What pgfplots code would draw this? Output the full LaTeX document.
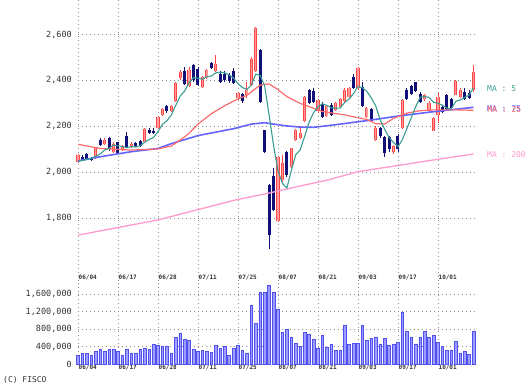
\documentclass[border=0pt]{standalone}
\usepackage{pgfplots}
\pgfplotsset{compat=1.18}
\usepackage{pgfplotstable}
\usepackage{fontspec}
\setmainfont{DejaVu Sans}
\setmonofont{DejaVu Sans Mono}
\definecolor{upc}{HTML}{FF4545}
\definecolor{upin}{HTML}{FF9A9A}
\definecolor{dnc}{HTML}{101078}
\definecolor{mafive}{HTML}{3A9E92}
\definecolor{matwf}{HTML}{FF6A6A}
\definecolor{masev}{HTML}{6464FF}
\definecolor{matwo}{HTML}{FF9ACD}
\definecolor{volf}{HTML}{9E9EFF}
\definecolor{vold}{HTML}{5050F0}
\definecolor{gridc}{HTML}{8C8C8C}
\definecolor{txt}{HTML}{333333}

\pgfplotstableread{
x lo hi low high
0 2047 2076 2040 2080
4 2061 2110 2058 2112
6 2122 2142 2118 2150
8 2090 2125 2085 2130
10 2100 2112 2095 2120
12 2112 2125 2108 2130
15 2134 2190 2130 2195
18 2195 2240 2190 2245
19 2250 2275 2245 2280
21 2268 2290 2262 2295
22 2310 2390 2305 2392
23 2410 2438 2400 2445
25 2375 2445 2370 2460
28 2370 2415 2365 2420
29 2410 2445 2405 2450
31 2440 2470 2435 2512
36 2322 2345 2315 2350
38 2335 2360 2325 2395
39 2380 2495 2375 2500
40 2440 2630 2435 2632
45 1790 2068 1785 2070
46 1967 2040 1960 2075
48 2025 2105 2020 2108
49 2141 2185 2138 2188
50 2149 2171 2145 2200
51 2222 2330 2218 2332
54 2265 2315 2258 2320
56 2245 2290 2240 2295
58 2270 2300 2265 2305
59 2285 2320 2280 2325
60 2310 2360 2305 2365
61 2330 2365 2325 2370
63 2367 2455 2360 2458
65 2243 2280 2238 2285
67 2142 2195 2135 2200
71 2090 2115 2080 2120
73 2195 2316 2190 2320
78 2318 2335 2312 2340
79 2265 2300 2260 2310
80 2182 2235 2178 2240
81 2250 2330 2215 2345
85 2338 2396 2335 2400
86 2330 2360 2325 2365
89 2358 2437 2350 2466
}\upcandles

\pgfplotstableread{
x lo hi low high
1 2055 2069 2048 2076
2 2058 2078 2052 2085
3 2055 2064 2050 2068
5 2120 2140 2115 2148
7 2100 2150 2095 2152
9 2086 2130 2083 2134
11 2112 2160 2108 2175
13 2115 2128 2110 2132
14 2115 2135 2110 2140
16 2170 2185 2165 2195
17 2172 2182 2168 2195
20 2266 2288 2260 2292
24 2385 2440 2380 2460
26 2400 2465 2395 2470
27 2380 2450 2375 2460
30 2455 2478 2450 2482
32 2395 2430 2390 2440
33 2400 2430 2395 2440
34 2398 2425 2390 2432
35 2390 2440 2385 2455
37 2310 2340 2300 2345
41 2308 2532 2300 2535
42 2090 2184 2085 2186
43 1727 1945 1668 1948
44 1836 1985 1830 2017
47 1988 2090 1980 2092
52 2301 2359 2296 2362
53 2308 2352 2300 2368
55 2240 2298 2235 2305
57 2250 2295 2245 2300
62 2368 2415 2362 2428
64 2290 2370 2285 2395
66 2225 2275 2220 2280
68 2157 2193 2150 2198
69 2085 2152 2065 2157
70 2100 2155 2090 2160
72 2100 2160 2090 2165
74 2320 2360 2315 2365
75 2340 2375 2335 2380
76 2352 2392 2348 2395
77 2305 2340 2300 2350
82 2262 2285 2258 2290
83 2275 2335 2270 2340
84 2280 2320 2275 2325
87 2320 2350 2315 2365
88 2325 2345 2320 2360
}\dncandles

\pgfplotstableread{
x v
0 200000
1 240000
2 240000
3 190000
4 280000
5 330000
6 290000
7 330000
8 330000
9 290000
10 195000
11 345000
12 240000
13 255000
14 330000
15 370000
16 330000
17 440000
18 430000
19 415000
20 415000
21 255000
22 600000
23 710000
24 575000
25 535000
26 330000
27 285000
28 310000
29 285000
30 270000
31 420000
32 355000
33 410000
34 195000
35 370000
36 420000
37 310000
38 255000
39 1350000
40 935000
41 1650000
42 1630000
43 1790000
44 1650000
45 1245000
46 730000
47 790000
48 600000
49 480000
50 410000
51 725000
52 690000
53 560000
54 370000
55 650000
56 390000
57 440000
58 310000
59 310000
60 875000
61 445000
62 470000
63 470000
64 875000
65 545000
66 580000
67 620000
68 460000
69 580000
70 420000
71 460000
72 500000
73 1185000
74 745000
75 620000
76 460000
77 620000
78 745000
79 600000
80 655000
81 500000
82 410000
83 310000
84 320000
85 520000
86 255000
87 280000
88 225000
89 745000
}\vol

\pgfplotsset{
  chartaxis/.style={
    scale only axis, width=399.5pt, xmin=0, xmax=89.9,
    axis line style={draw=none}, major tick length=0pt, tick style={draw=none},
    xtick={0,9,...,81},
    xticklabels={06/04,06/17,06/28,07/11,07/25,08/07,08/21,09/03,09/17,10/01},
    xmajorgrids, ymajorgrids,
    grid style={gridc, line width=0.9pt, dash pattern=on 1pt off 3pt},
    clip=false,
    yticklabel style={font=\ttfamily\fontsize{8.5}{9}\selectfont, text=txt, anchor=east, inner sep=1pt, xshift=-5pt},
    /pgf/number format/.cd, fixed, precision=0, 1000 sep={,}, assume math mode=true,
  },
  datelab/.style={font=\ttfamily\bfseries\fontsize{6}{6}\selectfont, text=txt, inner sep=0.5pt},
}

\begin{document}
\begin{tikzpicture}
\path[use as bounding box] (0pt,0pt) rectangle (531pt,390pt);

\begin{axis}[chartaxis, at={(78pt,109.1pt)}, anchor=south west, height=280.9pt,
  ymin=1527.8, ymax=2750, ytick={1800,2000,2200,2400,2600},
  xticklabel style={datelab, anchor=south west, yshift=0pt},
]
% wicks
\addplot[draw=none, mark=none, forget plot, error bars/.cd, y dir=both, y explicit, error mark=none,
  error bar style={line width=0.9pt, draw=dnc}]
  table[x=x, y expr={(\thisrow{low}+\thisrow{high})/2}, y error expr={(\thisrow{high}-\thisrow{low})/2}] {\dncandles};
\addplot[draw=none, mark=none, forget plot, error bars/.cd, y dir=both, y explicit, error mark=none,
  error bar style={line width=0.9pt, draw=upc}]
  table[x=x, y expr={(\thisrow{low}+\thisrow{high})/2}, y error expr={(\thisrow{high}-\thisrow{low})/2}] {\upcandles};
% bodies
\addplot[draw=none, mark=none, forget plot, error bars/.cd, y dir=both, y explicit, error mark=none,
  error bar style={line width=3pt, draw=dnc}]
  table[x=x, y expr={(\thisrow{lo}+\thisrow{hi})/2}, y error expr={(\thisrow{hi}-\thisrow{lo})/2}] {\dncandles};
\addplot[draw=none, mark=none, forget plot, error bars/.cd, y dir=both, y explicit, error mark=none,
  error bar style={line width=3.2pt, draw=upc}]
  table[x=x, y expr={(\thisrow{lo}+\thisrow{hi})/2}, y error expr={(\thisrow{hi}-\thisrow{lo})/2}] {\upcandles};
\addplot[draw=none, mark=none, forget plot, error bars/.cd, y dir=both, y explicit, error mark=none,
  error bar style={line width=1.3pt, draw=upin}]
  table[x=x, y expr={(\thisrow{lo}+\thisrow{hi})/2}, y error expr={(\thisrow{hi}-\thisrow{lo})/2}] {\upcandles};

% MA 200
\addplot[matwo, line width=1.3pt, mark=none] coordinates {(0,1727)(18,1793)(35,1878)(43,1910)(47,1928)(56,1966)(63,2003)(81,2057)(89,2080)};
% MA 75
\addplot[masev, line width=1.6pt, mark=none] coordinates {(0,2050)(5,2068)(12,2090)(18,2104)(21,2125)(27,2160)(35,2190)(39,2210)(42,2216)(44,2210)(47,2202)(50,2197)(53,2196)(57,2205)(65,2225)(72,2245)(80,2264)(89,2283)};
% MA 25
\addplot[matwf, line width=1.2pt, mark=none] coordinates {(0,2122)(5,2104)(12,2097)(18,2102)(21,2115)(23,2140)(25,2170)(27,2210)(30,2255)(33,2290)(36,2320)(38,2335)(40,2365)(41,2380)(43,2385)(45,2360)(47,2330)(50,2300)(55,2265)(60,2250)(65,2230)(67,2212)(69,2210)(71,2235)(74,2258)(77,2268)(80,2272)(85,2272)(89,2270)};
% MA 5
\addplot[mafive, line width=1.1pt, mark=none] coordinates {(0,2048)(1,2052)(2,2056)(3,2060)(4,2071)(5,2080)(6,2097)(7,2105)(8,2119)(9,2115)(10,2113)(11,2107)(12,2112)(13,2110)(14,2116)(15,2131)(16,2143)(17,2152)(18,2177)(19,2209)(20,2225)(21,2249)(22,2292)(23,2332)(24,2354)(25,2390)(26,2412)(27,2410)(28,2405)(29,2417)(30,2419)(31,2433)(32,2436)(33,2433)(34,2424)(35,2411)(36,2386)(37,2369)(38,2361)(39,2380)(40,2428)(41,2421)(42,2377)(43,2250)(44,2118)(45,2006)(46,1952)(47,1932)(48,2007)(49,2077)(50,2098)(51,2156)(52,2218)(53,2259)(54,2285)(55,2299)(56,2291)(57,2281)(58,2279)(59,2280)(60,2304)(61,2319)(62,2343)(63,2374)(64,2368)(65,2352)(66,2324)(67,2289)(68,2229)(69,2188)(70,2152)(71,2130)(72,2111)(73,2143)(74,2190)(75,2238)(76,2286)(77,2327)(78,2330)(79,2326)(80,2305)(81,2301)(82,2292)(83,2280)(84,2276)(85,2309)(86,2315)(87,2326)(88,2336)(89,2368)};
\end{axis}

\begin{axis}[chartaxis, at={(78pt,26pt)}, anchor=south west, height=83.1pt,
  ymin=0, ymax=1900000, ytick={0,400000,800000,1200000,1600000}, scaled y ticks=false,
  xticklabel style={datelab, anchor=north west, yshift=-0.5pt},
]
\addplot[ybar, bar width=2.6pt, fill=volf, draw=vold, line width=0.6pt] table[x=x, y=v] {\vol};
\end{axis}

\node[anchor=west, inner sep=0pt, text=mafive, font=\ttfamily\fontsize{8}{8}\selectfont] at (487pt,301.3pt) {MA : 5};
\node[anchor=west, inner sep=0pt, text=masev, font=\ttfamily\fontsize{8}{8}\selectfont] at (487pt,281pt) {MA : 75};
\node[anchor=west, inner sep=0pt, text=matwf, font=\ttfamily\fontsize{8}{8}\selectfont] at (487.3pt,280.6pt) {MA : 25};
\node[anchor=west, inner sep=0pt, text=matwo, font=\ttfamily\fontsize{8}{8}\selectfont] at (487pt,235pt) {MA : 200};
\node[anchor=west, inner sep=0pt, text=txt, font=\ttfamily\fontsize{8}{8}\selectfont] at (3pt,10pt) {(C) FISCO};
\end{tikzpicture}
\end{document}
